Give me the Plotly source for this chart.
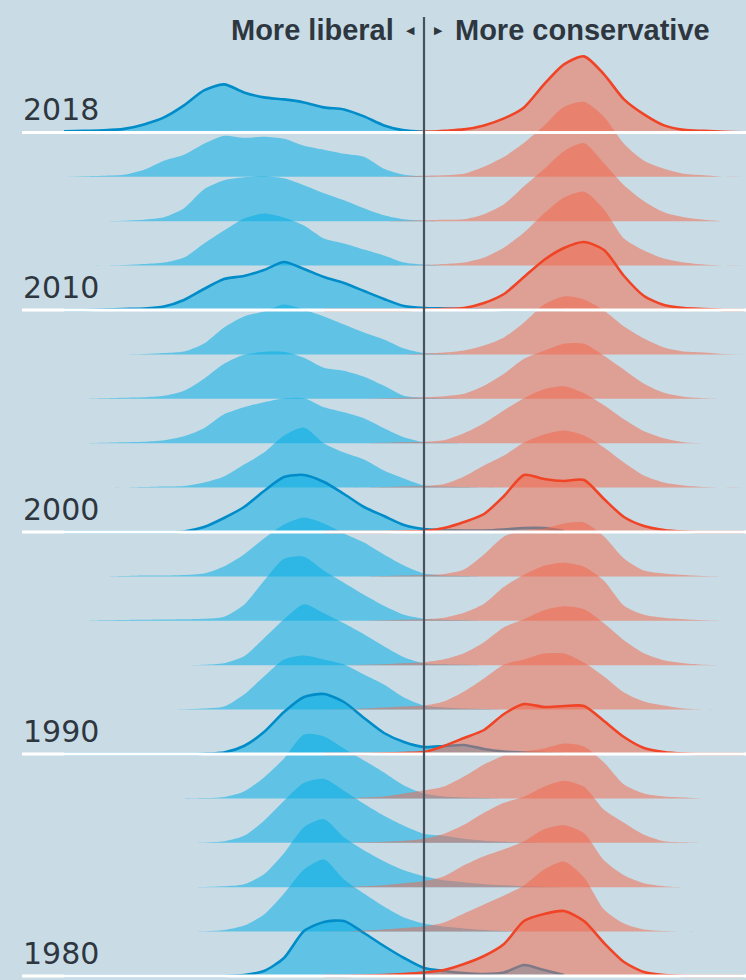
import plotly.graph_objects as go

# ---------------- data ----------------
YEARS = [2018, 2016, 2014, 2012, 2010, 2008, 2006, 2004, 2002, 2000,
         1998, 1996, 1994, 1992, 1990, 1988, 1986, 1984, 1982, 1980]
LABEL_YEARS = [2018, 2010, 2000, 1990, 1980]

# ideology score grid (0 = centre line)
DEM_X = [-0.90, -0.85, -0.80, -0.75, -0.70, -0.65, -0.60, -0.55, -0.50, -0.45,
         -0.40, -0.35, -0.30, -0.25, -0.20, -0.15, -0.10, -0.05, 0.00, 0.05,
         0.10, 0.15, 0.20, 0.25, 0.30, 0.35]
REP_X = [-0.25, -0.20, -0.15, -0.10, -0.05, 0.00, 0.05, 0.10, 0.15, 0.20,
         0.25, 0.30, 0.35, 0.40, 0.45, 0.50, 0.55, 0.60, 0.65, 0.70,
         0.75, 0.80]

# density (scaled) per year, same order as YEARS
DEM_DENSITY = [
    [1, 1.5, 2, 3.5, 8, 15, 27, 42, 48, 40, 35, 33, 30, 25, 23, 16, 7, 2, 0.5, 0, 0, 0, 0, 0, 0, 0],
    [0, 0.5, 1, 2, 7, 16, 22, 33, 41, 39, 40, 38, 31, 27, 23, 20, 8, 2, 0.5, 0, 0, 0, 0, 0, 0, 0],
    [0, 0, 0, 0.5, 1.5, 4, 13, 32, 41, 44, 45, 43, 36, 28, 21, 13, 6, 2, 0.5, 0, 0, 0, 0, 0, 0, 0],
    [0, 0, 0, 0.5, 1.5, 3, 8, 22, 35, 47, 52, 48, 40, 27, 22, 16, 10, 3, 1, 0, 0, 0, 0, 0, 0, 0],
    [0, 0, 0.5, 1, 1.5, 3.5, 10, 21, 31, 34, 40, 48, 41, 33, 27, 19, 11, 4, 2, 1.5, 1, 0.5, 0, 0, 0, 0],
    [0, 0, 0, 0, 0.5, 1.5, 3, 11, 27, 38, 43, 50, 45, 38, 30, 22, 15, 6, 1.5, 0.5, 0, 0, 0, 0, 0, 0],
    [0, 0, 0.5, 1, 1.5, 3, 8, 20, 35, 44, 47, 47, 41, 31, 28, 22, 13, 3, 1, 0.5, 0, 0, 0, 0, 0, 0],
    [0, 0, 0.5, 1, 1.5, 3, 7, 15, 29, 36, 41, 45, 45, 36, 31, 25, 15, 6, 1, 0.5, 0, 0, 0, 0, 0, 0],
    [0, 0, 0, 0, 0.5, 1, 1.5, 5, 11, 23, 35, 52, 60, 44, 35, 28, 17, 9, 2, 1, 0.5, 0, 0, 0, 0, 0],
    [0, 0, 0, 0, 0, 0, 0.5, 5, 14, 25, 41, 55, 57, 50, 38, 25, 16, 7, 3, 2, 1.5, 1.5, 2.5, 4, 4, 1],
    [0, 0, 0, 0.5, 1, 1, 1.5, 3, 10, 22, 38, 52, 59, 53, 43, 34, 22, 11, 3, 1, 0.5, 0, 0, 0, 0, 0],
    [0, 0, 0.5, 0.8, 1, 1.2, 1.5, 2, 4, 16, 40, 62, 64, 50, 38, 26, 15, 6, 2, 1, 0.5, 0, 0, 0, 0, 0],
    [0, 0, 0, 0, 0, 0, 0, 0.5, 2, 9, 27, 46, 61, 52, 42, 31, 19, 8, 2, 1, 0.5, 0, 0, 0, 0, 0],
    [0, 0, 0, 0, 0, 0, 0.3, 1, 3, 15, 33, 50, 54, 50, 45, 35, 25, 12, 4, 2, 1, 0.5, 0, 0, 0, 0],
    [0, 0, 0, 0, 0, 0, 0, 0.3, 1.5, 8, 22, 42, 57, 60, 52, 36, 21, 12, 7, 8, 9, 5, 2.5, 1.5, 1, 0],
    [0, 0, 0, 0, 0, 0, 0, 0.3, 1.5, 7, 21, 40, 64, 62, 50, 38, 26, 13, 5, 2, 1, 0.5, 0, 0, 0, 0],
    [0, 0, 0, 0, 0, 0, 0, 0.3, 1.5, 7, 22, 42, 60, 64, 52, 39, 27, 17, 9, 7, 4, 2, 1, 0.5, 0, 0],
    [0, 0, 0, 0, 0, 0, 0, 0.3, 1, 3, 13, 34, 60, 68, 50, 37, 26, 17, 11, 7, 5, 3, 2, 1, 0.5, 0],
    [0, 0, 0, 0, 0, 0, 0, 0.3, 1.5, 6, 17, 38, 62, 72, 52, 38, 25, 14, 8, 5, 3, 1.5, 0.5, 0, 0, 0],
    [0, 0, 0, 0, 0, 0, 0, 0, 0, 1, 5, 18, 45, 54, 55, 43, 30, 18, 8, 5, 3, 2, 3.5, 11, 6, 1],
]
REP_DENSITY = [
    [0, 0, 0, 0, 0, 0.5, 1.5, 3, 7, 14, 25, 48, 68, 76, 58, 33, 18, 7, 2.5, 1.5, 0.5, 0],
    [0, 0, 0, 0, 0.5, 1, 1.5, 3, 10, 20, 34, 51, 70, 75, 60, 33, 16, 8, 3, 1.5, 0, 0],
    [0, 0, 0, 0, 0.5, 1, 1.5, 2, 7, 17, 35, 52, 70, 78, 58, 36, 20, 9, 4, 1.5, 0, 0],
    [0, 0, 0, 0, 0, 0.5, 1.5, 3, 8, 18, 33, 52, 68, 74, 56, 27, 15, 7, 3, 1, 0, 0],
    [0, 0, 0, 0, 0, 0.5, 1, 2, 7, 16, 33, 50, 62, 68, 60, 34, 14, 5, 2, 1, 0, 0],
    [0, 0, 0, 0, 0, 1, 2, 4, 9, 17, 32, 50, 58, 55, 44, 28, 16, 7, 3, 2, 0.5, 0],
    [0, 0, 0, 0.5, 1, 1.5, 2.5, 5, 13, 25, 40, 48, 55, 55, 43, 29, 15, 6, 2, 0.5, 0, 0],
    [0, 0, 0, 0.5, 1, 1.5, 3, 10, 20, 33, 45, 54, 57, 50, 38, 24, 12, 5, 1, 0, 0, 0],
    [0, 0, 0, 0.5, 1, 1.5, 3.5, 11, 22, 32, 45, 53, 57, 52, 40, 25, 12, 5, 2, 0.5, 0, 0],
    [0, 0, 0, 0, 0.5, 1, 4, 10, 18, 36, 57, 53, 51, 52, 33, 15, 6, 2, 0.5, 0, 0, 0],
    [0, 0, 0, 0.5, 1, 1.5, 2.5, 7, 22, 40, 46, 48, 53, 54, 40, 18, 6, 3, 1.5, 0.5, 0, 0],
    [0, 0, 0, 0.5, 1, 1.5, 3, 8, 17, 34, 46, 55, 58, 54, 40, 15, 6, 3, 1.5, 0.5, 0, 0],
    [0, 0, 0.5, 1, 2, 3, 6, 12, 23, 38, 46, 55, 59, 56, 42, 25, 12, 5, 2, 0.5, 0, 0],
    [0, 0, 1, 2, 3, 4, 8, 18, 31, 45, 50, 56, 56, 47, 33, 17, 8, 4, 1, 0, 0, 0],
    [0, 0, 0, 0.5, 1, 2, 8, 16, 24, 40, 50, 47, 48, 48, 33, 17, 6, 2, 0.5, 0, 0, 0],
    [0, 0, 1, 2, 5, 8, 12, 22, 34, 43, 47, 50, 55, 52, 36, 14, 5, 2, 1, 0, 0, 0],
    [0, 0, 0.5, 1, 2, 4, 9, 18, 30, 40, 46, 56, 62, 56, 33, 20, 8, 1.5, 0.5, 0, 0, 0],
    [0, 0, 1, 2, 4, 6, 11, 22, 31, 38, 46, 58, 62, 54, 27, 12, 4, 1, 0, 0, 0, 0],
    [0, 0, 1, 2, 3.5, 5, 9, 18, 27, 36, 46, 62, 70, 54, 22, 8, 2, 0.5, 0, 0, 0, 0],
    [0, 0, 0.5, 1, 2, 3.5, 6, 12, 20, 32, 55, 62, 65, 55, 33, 14, 4, 1, 0, 0, 0, 0],
]

HEADER_LEFT = "More liberal"
HEADER_RIGHT = "More conservative"

# ---------------- style ----------------
W, H = 746, 980
BG = "#c9dce6"
BLUE_FILL = "rgba(0,172,228,0.52)"
RED_FILL = "rgba(242,104,74,0.52)"
BLUE_LINE = "rgb(0,140,200)"
RED_LINE = "rgb(240,68,38)"
TEXT = "#2e373f"
ROW_GAP = 44.4
SMOOTH = 0.7


def base_of(year):
    return (year - 1980) / 2 * ROW_GAP


fig = go.Figure()


def add_fills(xs, rows, color):
    for year, dens in zip(YEARS, rows):
        b = base_of(year)
        fig.add_trace(go.Scatter(x=xs, y=[b] * len(xs), mode="lines",
                                 line=dict(width=0), hoverinfo="skip",
                                 showlegend=False))
        fig.add_trace(go.Scatter(x=xs, y=[b + d for d in dens], mode="lines",
                                 line=dict(width=0, shape="spline", smoothing=SMOOTH),
                                 fill="tonexty", fillcolor=color,
                                 hoverinfo="skip", showlegend=False))


def add_lines(xs, rows, color):
    for year, dens in zip(YEARS, rows):
        if year not in LABEL_YEARS:
            continue
        b = base_of(year)
        fig.add_trace(go.Scatter(x=xs, y=[b + d for d in dens], mode="lines",
                                 line=dict(width=2.6, color=color, shape="spline",
                                           smoothing=SMOOTH),
                                 hoverinfo="skip", showlegend=False))


add_fills(DEM_X, DEM_DENSITY, BLUE_FILL)
add_lines(DEM_X, DEM_DENSITY, BLUE_LINE)
add_fills(REP_X, REP_DENSITY, RED_FILL)
add_lines(REP_X, REP_DENSITY, RED_LINE)

shapes = []
annotations = []
for year in LABEL_YEARS:
    b = base_of(year)
    shapes.append(dict(type="line", xref="paper", yref="y", x0=22 / W, x1=1,
                       y0=b, y1=b, line=dict(color="white", width=3), layer="above"))
    annotations.append(dict(x=21 / W, xref="paper", xanchor="left",
                            y=b + 23, yref="y", yanchor="middle",
                            text=str(year), showarrow=False,
                            font=dict(family="DejaVu Sans", size=30, color=TEXT)))

shapes.append(dict(type="line", xref="x", yref="paper", x0=0, x1=0,
                   y0=0, y1=1 - 17 / H, line=dict(color="#44525d", width=2.2),
                   layer="above"))

HEAD_Y = 1 - 30 / H
HEAD_FONT = dict(family="Liberation Sans", size=29, color=TEXT, weight="bold")
annotations.append(dict(x=-0.07, xref="x", xanchor="right", y=HEAD_Y,
                        yref="paper", yanchor="middle", text=HEADER_LEFT,
                        showarrow=False, font=HEAD_FONT))
annotations.append(dict(x=0.072, xref="x", xanchor="left", y=HEAD_Y,
                        yref="paper", yanchor="middle", text=HEADER_RIGHT,
                        showarrow=False, font=HEAD_FONT))
annotations.append(dict(x=-0.017, xref="x", xanchor="right", y=HEAD_Y,
                        yref="paper", yanchor="middle", text="◀",
                        showarrow=False,
                        font=dict(family="DejaVu Sans", size=11, color=TEXT)))
annotations.append(dict(x=0.019, xref="x", xanchor="left", y=HEAD_Y,
                        yref="paper", yanchor="middle", text="▶",
                        showarrow=False,
                        font=dict(family="DejaVu Sans", size=11, color=TEXT)))

fig.update_layout(
    width=W, height=H,
    margin=dict(l=0, r=0, t=0, b=0),
    paper_bgcolor=BG, plot_bgcolor=BG,
    shapes=shapes, annotations=annotations,
    showlegend=False,
    xaxis=dict(range=[-1.06, 0.805], visible=False, fixedrange=True),
    yaxis=dict(range=[-4, 976], visible=False, fixedrange=True),
)

fig.write_html("out.html", config={"displayModeBar": False},
               post_script="document.body.style.margin='0';document.body.style.background='" + BG + "';")
